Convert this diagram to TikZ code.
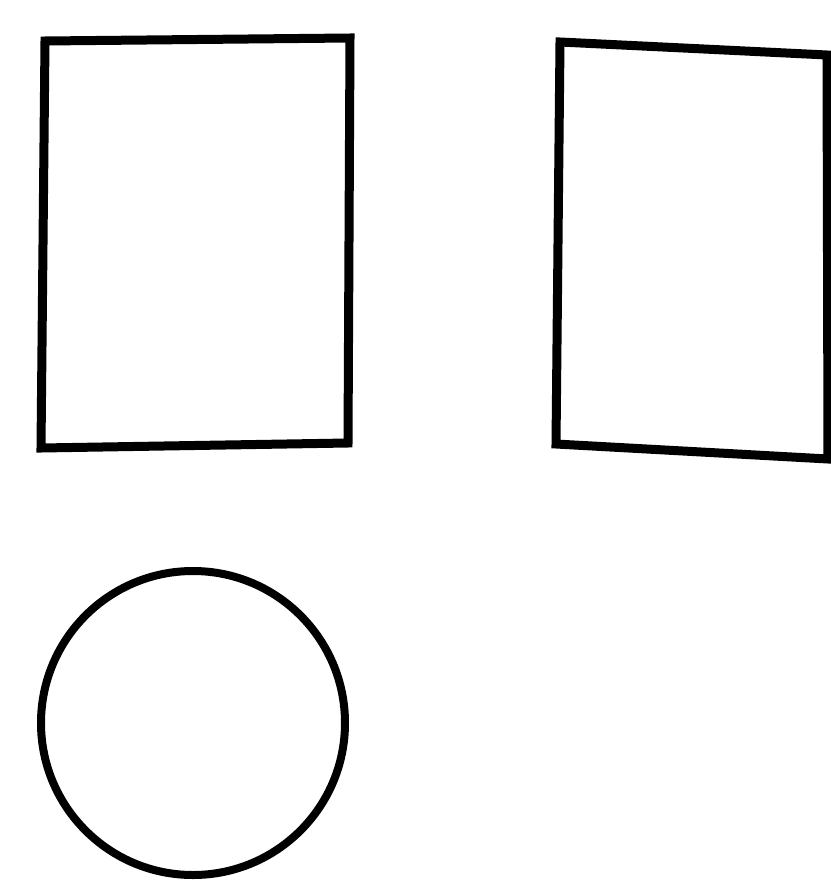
\documentclass[tikz,border=0pt]{standalone}
\tikzset{shapeline/.style={draw=black,line width=9pt,line join=miter}}
\begin{document}
\begin{tikzpicture}[x=1pt,y=-1pt]
\useasboundingbox (0,0) rectangle (830,883);
\fill[white] (0,0) rectangle (830,883);
% left quadrilateral
\coordinate (a1) at (45,41);
\coordinate (a2) at (350,38);
\coordinate (a3) at (348,443);
\coordinate (a4) at (41,448);
\draw[shapeline] (a1) -- (a2) -- (a3) -- (a4) -- cycle;
% right quadrilateral
\coordinate (b1) at (560,42);
\coordinate (b2) at (827,55);
\coordinate (b3) at (828,459);
\coordinate (b4) at (556,444);
\draw[shapeline] (b1) -- (b2) -- (b3) -- (b4) -- cycle;
% circle
\coordinate (c) at (193,723);
\draw[shapeline,line width=8pt] (c) circle[radius=152];
\end{tikzpicture}
\end{document}
